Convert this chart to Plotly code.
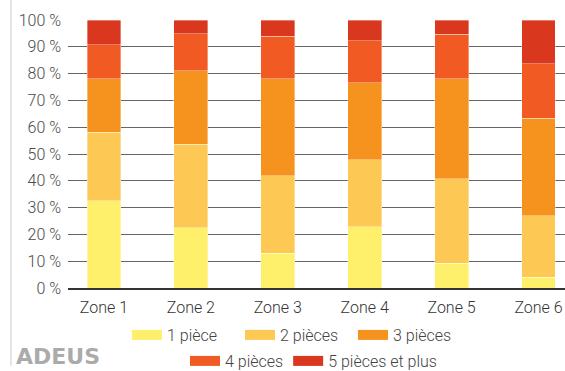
import plotly.graph_objects as go

# Share of dwellings by number of rooms, per zone (percent of each zone)
zones = ["Zone 1", "Zone 2", "Zone 3", "Zone 4", "Zone 5", "Zone 6"]
one_room = [32.6, 22.5, 12.9, 22.9, 9.2, 4.1]
two_rooms = [25.5, 31.2, 29.0, 24.9, 31.5, 22.9]
three_rooms = [19.9, 27.3, 36.1, 28.8, 37.3, 36.3]
four_rooms = [12.7, 13.8, 16.0, 15.6, 16.7, 20.3]
five_plus = [9.3, 5.2, 6.0, 7.8, 5.3, 16.4]

series_names = ["1 pièce", "2 pièces", "3 pièces", "4 pièces", "5 pièces et plus"]
series_values = [one_room, two_rooms, three_rooms, four_rooms, five_plus]
colors = ["#FEF06A", "#FDC853", "#F6921E", "#F15A22", "#D9381F"]
legend_ids = ["legend", "legend", "legend", "legend2", "legend2"]

tick_vals = list(range(0, 101, 10))
tick_text = [f"{v} %" for v in tick_vals]

fig = go.Figure()

for name, vals, col, lg in zip(series_names, series_values, colors, legend_ids):
    fig.add_trace(go.Bar(
        x=zones, y=vals, name=name, marker_color=col,
        marker_line=dict(color="rgba(255,255,255,0.45)", width=0.8),
        legendgroup=name, showlegend=False,
    ))
    # wide swatch entry for the legend
    fig.add_trace(go.Scatter(
        x=[None], y=[None], mode="lines", name=name,
        line=dict(color=col, width=14), legendgroup=name,
        legend=lg, showlegend=True, hoverinfo="skip",
    ))

font_family = "Roboto, Inter, sans-serif"

fig.update_layout(
    width=565, height=371,
    margin=dict(l=68, r=0, t=20, b=83),
    barmode="stack", bargap=0.61,
    plot_bgcolor="white", paper_bgcolor="white",
    font=dict(family=font_family, size=16, color="#444", weight=300),
    xaxis=dict(
        range=[-0.414, 5.305], showgrid=False, zeroline=False,
        showline=True, linecolor="#333", linewidth=1.5,
        tickfont=dict(size=16, color="#333", weight=300), ticks="",
        ticklabelstandoff=4, fixedrange=True,
    ),
    yaxis=dict(
        range=[0, 100], tickvals=tick_vals, ticktext=tick_text,
        showgrid=True, gridcolor="#666666", gridwidth=1.2,
        zeroline=False, showline=False, ticks="",
        tickfont=dict(size=16, color="#4a4a4a", weight=300),
        ticklabelstandoff=6, fixedrange=True,
    ),
    legend=dict(
        orientation="h", xref="container", yref="container",
        x=127 / 565, y=1 - 335 / 371, xanchor="left", yanchor="middle",
        font=dict(size=16, color="#444", weight=300), itemwidth=30,
        bgcolor="rgba(0,0,0,0)", traceorder="normal", entrywidth=68,
    ),
    legend2=dict(
        orientation="h", xref="container", yref="container",
        x=185 / 565, y=1 - 361 / 371, xanchor="left", yanchor="middle",
        font=dict(size=16, color="#444", weight=300), itemwidth=30,
        bgcolor="rgba(0,0,0,0)", traceorder="normal",
    ),
    showlegend=True,
)

# thin rule along the left edge
fig.add_shape(type="line", xref="paper", yref="paper",
              x0=(11 - 68) / 497, x1=(11 - 68) / 497, y0=-0.29, y1=1.075,
              line=dict(color="#dddddd", width=1.5))

# ADEUS mark
fig.add_annotation(text="<b>ADEUS</b>", xref="paper", yref="paper",
                   x=(14 - 68) / 497, y=-(371 - 288) / 268,
                   xanchor="left", yanchor="bottom", showarrow=False,
                   font=dict(family="DejaVu Sans", size=22, color="#ababab"))

fig.write_html("out.html")
